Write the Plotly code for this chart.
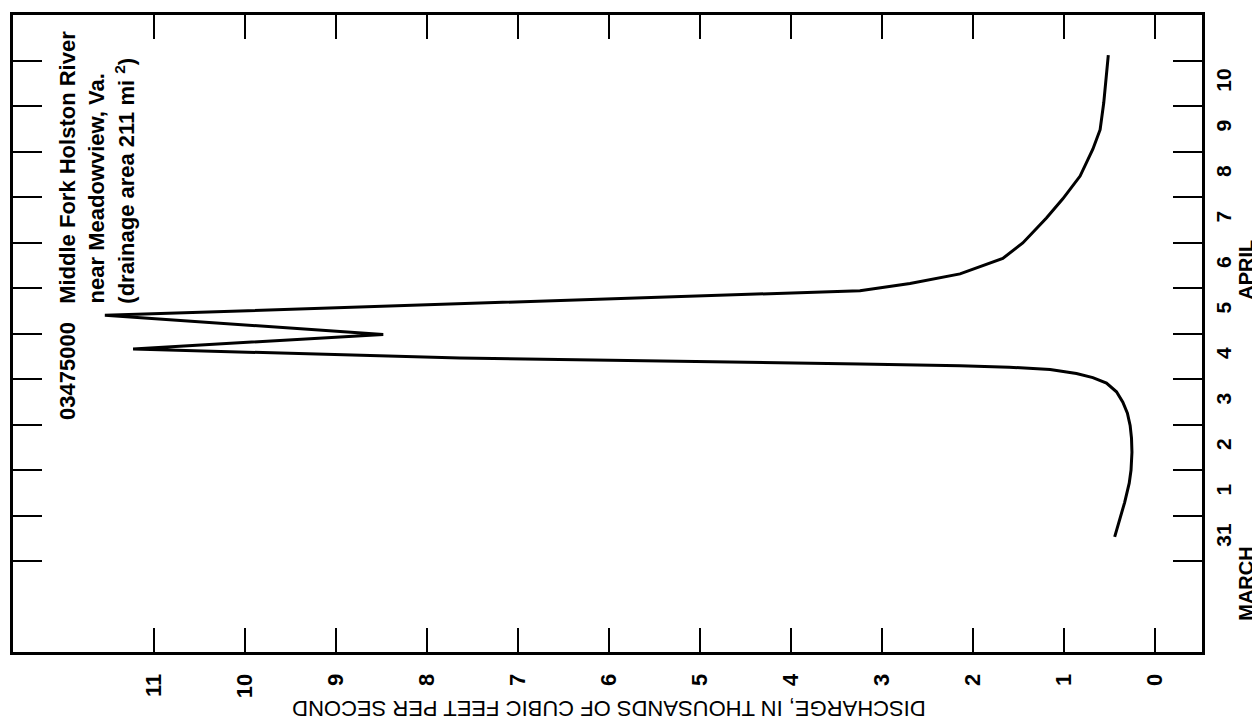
import plotly.graph_objects as go

# Time in days after 00:00 on March 31 (0 = Mar 31, 1 = Apr 1, ... 10 = Apr 10)
days = [0.53, 1.00, 1.29, 1.71, 2.00, 2.39, 2.70, 2.98, 3.25, 3.49, 3.72, 3.91,
        4.03, 4.12, 4.21, 4.26, 4.29, 4.33, 4.40, 4.46, 4.66, 4.98, 5.40, 5.65,
        5.80, 5.94, 6.10, 6.31, 6.65, 6.99, 7.54, 7.96, 8.46, 9.05, 9.48, 10.07, 11.12]
# Discharge, thousands of cubic feet per second
discharge = [0.44, 0.37, 0.33, 0.28, 0.26, 0.25, 0.255, 0.27, 0.30, 0.35, 0.42, 0.53,
             0.68, 0.86, 1.15, 1.60, 2.14, 3.24, 5.50, 7.64, 11.23, 8.48, 11.54, 7.64,
             5.40, 3.24, 2.69, 2.14, 1.67, 1.45, 1.19, 1.01, 0.82, 0.68, 0.60, 0.56, 0.51]

q_ticks = [0, 1, 2, 3, 4, 5, 6, 7, 8, 9, 10, 11]
q_labels = ["0", "1", "2", "3", "4", "5", "6", "7", "8", "9", "10", "11"]
day_ticks = [0, 1, 2, 3, 4, 5, 6, 7, 8, 9, 10, 11]
day_label_pos = [0.5, 1.5, 2.5, 3.5, 4.5, 5.5, 6.5, 7.5, 8.5, 9.5, 10.5]
day_labels = ["31", "1", "2", "3", "4", "5", "6", "7", "8", "9", "10"]

FONT = "Liberation Sans, Arial, Helvetica, sans-serif"

fig = go.Figure()
fig.add_trace(go.Scatter(x=discharge, y=days, mode="lines",
                         line=dict(color="black", width=3),
                         hoverinfo="skip", showlegend=False))
fig.add_trace(go.Scatter(x=[None], y=[None], yaxis="y2", showlegend=False,
                         hoverinfo="skip"))

# page body adds an 8 px margin, so the figure is 8 px smaller than the window
fig.update_layout(
    width=1252, height=715,
    margin=dict(l=5, r=58, t=4, b=71),
    paper_bgcolor="white", plot_bgcolor="white",
    font=dict(family=FONT, color="black"),
    xaxis=dict(range=[12.55, -0.52], tickvals=q_ticks, ticktext=q_labels,
               ticks="inside", ticklen=24, tickwidth=2, tickcolor="black",
               showline=True, linewidth=3, linecolor="black", mirror="ticks",
               showgrid=False, zeroline=False, tickangle=-90,
               tickfont=dict(size=22, family=FONT, weight="bold"),
               ticklabelstandoff=10),
    yaxis=dict(range=[-2, 12], tickvals=day_ticks, ticks="inside", ticklen=29,
               tickwidth=2, tickcolor="black", showline=True, linewidth=3,
               linecolor="black", mirror="ticks", showticklabels=False,
               showgrid=False, zeroline=False),
    yaxis2=dict(overlaying="y", side="right", range=[-2, 12],
                tickvals=day_label_pos, ticktext=day_labels, tickangle=-90,
                ticks="", showgrid=False, zeroline=False, showline=False,
                tickfont=dict(size=21, family=FONT, weight="bold"),
                ticklabelstandoff=7),
)

bold = dict(size=22, family=FONT, color="black", weight="bold")
ann = [
    dict(text="03475000", x=11.95, y=5.29, xanchor="center", yanchor="top"),
    dict(text="Middle Fork Holston River", x=11.95, y=5.61, xanchor="center", yanchor="bottom"),
    dict(text="near Meadowview, Va.", x=11.63, y=5.61, xanchor="center", yanchor="bottom"),
    dict(text="(drainage area 211 mi <sup>2</sup>)", x=11.32, y=5.61, xanchor="center", yanchor="bottom"),
]
for a in ann:
    fig.add_annotation(xref="x", yref="y", textangle=-90, showarrow=False,
                       font=bold, **a)

fig.add_annotation(text="DISCHARGE, IN THOUSANDS OF CUBIC FEET PER SECOND",
                   xref="x", yref="paper", x=6, y=0, yshift=-57,
                   xanchor="center", yanchor="middle", textangle=180,
                   showarrow=False, font=dict(size=22, family=FONT, color="black"))
fig.add_annotation(text="MARCH", xref="paper", yref="y", x=1, xshift=44, y=-0.5,
                   xanchor="center", yanchor="middle", textangle=-90,
                   showarrow=False, font=dict(size=20, family=FONT, color="black", weight="bold"))
fig.add_annotation(text="APRIL", xref="paper", yref="y", x=1, xshift=44, y=6.4,
                   xanchor="center", yanchor="middle", textangle=-90,
                   showarrow=False, font=dict(size=20, family=FONT, color="black", weight="bold"))

fig.write_html("out.html")
